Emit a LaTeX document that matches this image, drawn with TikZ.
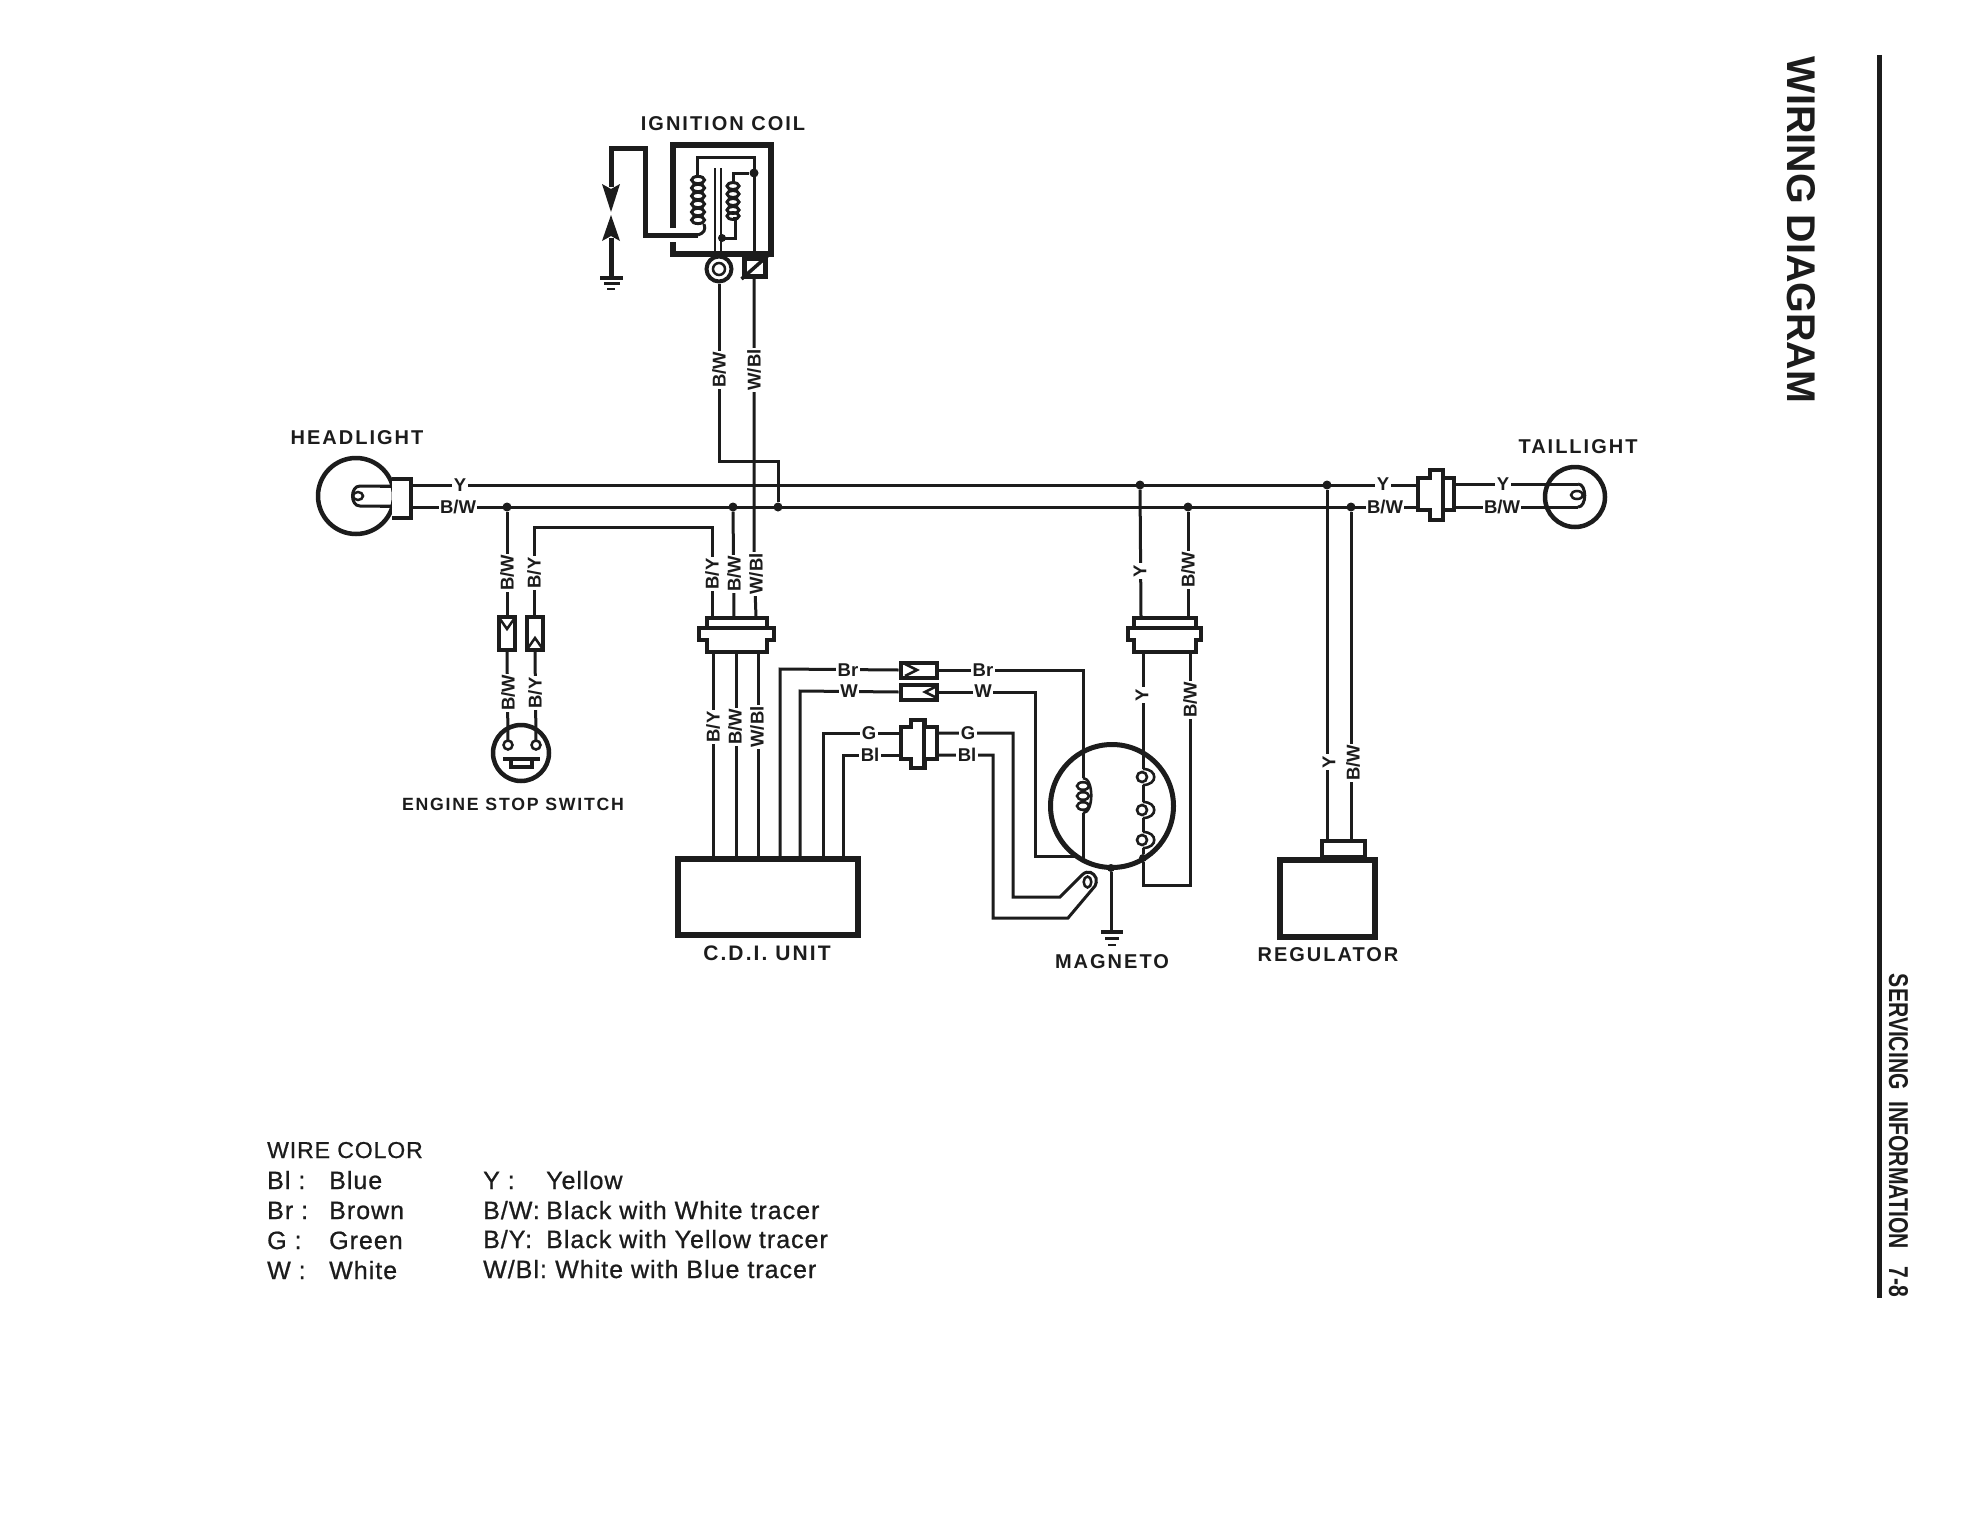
\documentclass[tikz,border=0pt]{standalone}
\usepackage{fontspec}
\setmainfont{Liberation Sans}
\newfontfamily\lblf[LetterSpace=10]{Liberation Sans}
\newfontfamily\legf[LetterSpace=4,FakeBold=0.8]{Liberation Sans}
\definecolor{ink}{HTML}{1C1C1C}
\tikzset{
  wire/.style={line width=3pt,draw=ink,line join=miter},
  heavy/.style={line width=5pt,draw=ink,line join=miter},
  shell/.style={line width=4pt,draw=ink,line join=miter},
  box/.style={rectangle,draw=ink,line width=6pt,fill=white,inner sep=0pt},
  plug/.style={rectangle,draw=ink,line width=4pt,fill=white,inner sep=0pt},
  wl/.style={font=\fontsize{18.5}{18.5}\selectfont\bfseries,text=ink,fill=white,inner sep=1.5pt},
  vl/.style={wl,rotate=90},
  captxt/.style={font=\lblf\fontsize{20}{20}\selectfont\bfseries,text=ink,inner sep=0pt},
  leg/.style={font=\legf\fontsize{25}{25}\selectfont,text=ink,anchor=base west,inner sep=0pt},
  jdot/.style={circle,fill=ink,draw=none,minimum size=9pt,inner sep=0pt},
}
\begin{document}
\begin{tikzpicture}[x=1pt,y=-1pt]
\useasboundingbox (0,0) rectangle (1968,1520);
\fill[white] (0,0) rectangle (1968,1520);

% ---------- named points
\coordinate (hlY) at (412,485); \coordinate (hlB) at (412,507);
\coordinate (tcYl) at (1417,485); \coordinate (tcBl) at (1417,507);
\coordinate (tcYr) at (1455,484); \coordinate (tcBr) at (1455,507);
\coordinate (tbY) at (1578,484); \coordinate (tbB) at (1578,507);
\node[jdot] (jSw) at (507,507) {};
\node[jdot] (jCdi) at (733,507) {};
\node[jdot] (jCoil) at (778,507) {};
\node[jdot] (jMagY) at (1140,485) {};
\node[jdot] (jMagB) at (1188,507) {};
\node[jdot] (jRegY) at (1327,485) {};
\node[jdot] (jRegB) at (1351,507) {};

% ---------- bus
\draw[wire] (hlY) -- (tcYl);
\draw[wire] (hlB) -- (tcBl);
\draw[wire] (tcYr) -- (tbY);
\draw[wire] (tcBr) -- (tbB);

% ---------- ignition coil
\coordinate (sparkT) at (611,148);
\coordinate (sparkR) at (645,148);
\coordinate (sparkB) at (645,235);
\coordinate (coilL) at (698,235);
\coordinate (gapU) at (611,187);
\coordinate (gapL) at (611,238);
\coordinate (gndS) at (611,278);
\draw[heavy] (gapU) -- (sparkT) -- (sparkR) -- (sparkB) -- (coilL);
\fill[ink] (602,184) -- (611,189) -- (620,184) -- (611,212) -- cycle;
\fill[ink] (602,241) -- (611,236) -- (620,241) -- (611,215) -- cycle;
\draw[heavy] (gapL) -- (gndS);
\draw[line width=4pt,draw=ink] (600,278) -- (623,278);
\draw[line width=2.5pt,draw=ink] (604,283.5) -- (620,283.5);
\draw[line width=2.5pt,draw=ink] (607,289) -- (615,289);
\draw[line width=6pt,draw=ink,line join=miter] (673,228) -- (673,145) -- (771,145) -- (771,254) -- (673,254) -- (673,242);
% windings
\draw[wire] (697,175) -- (697,157) -- (754,157) -- (754,257);
\node[circle,fill=ink,minimum size=9pt,inner sep=0pt] (cdot) at (754,173) {};
\draw[wire] (cdot) -- (733,173) -- (733,182);
\foreach \yy in {180,188,196,204,212,220}
  \draw[line width=3pt,draw=ink] (698,\yy) ellipse [x radius=6.5,y radius=3.6];
\draw[line width=3pt,draw=ink] (704,224) .. controls (706,230) and (704,233) .. (698,235);
\foreach \yy in {186,194,202,210,216}
  \draw[line width=3pt,draw=ink] (733,\yy) ellipse [x radius=6,y radius=3.4];
\draw[wire] (733,218) -- (735,218) -- (735,238) -- (721,238);
\draw[line width=2.8pt,draw=ink] (715,168) -- (715,258);
\draw[line width=2.8pt,draw=ink] (721,168) -- (721,252);
\node[circle,fill=ink,minimum size=8pt,inner sep=0pt] (cdot2) at (722,238) {};
\node[circle,draw=ink,line width=4pt,fill=white,minimum size=25pt,inner sep=0pt] (hv) at (719,269) {};
\node[circle,draw=ink,line width=2.5pt,fill=white,minimum size=12pt,inner sep=0pt] (hvi) at (719,269) {};
\node[plug,line width=5pt,minimum width=21pt,minimum height=18pt] (lv) at (754.5,267.5) {};
\draw[line width=3.5pt,draw=ink] (lv.south west) -- (lv.north east);
\coordinate (lvdown) at (754,278);
\node[captxt] (capCoil) at (723,124) {IGNITION COIL};

% wires coil -> bus / CDI
\coordinate (hvC) at (719,461);
\coordinate (hvD) at (778,461);
\draw[wire] (hv.south) -- (hvC) -- (hvD) -- (jCoil);
\coordinate (c1T) at (712,617);\coordinate (c2T) at (734,617);\coordinate (c3T) at (756,617);
\draw[wire] (lvdown) -- (754,560) -- (c3T);
\draw[wire] (jCdi) -- (c2T);
\coordinate (byTurn) at (534,527);
\coordinate (byCorner) at (712,527);
\draw[wire] (c1T) -- (byCorner) -- (byTurn) -- (534,615);
\draw[wire] (jSw) -- (507,615);
\node[vl] (l1) at (719,370) {B/W};
\node[vl] (l2) at (754,370) {W/Bl};

% ---------- headlight
\node[circle,draw=ink,line width=4.5pt,minimum size=76pt,inner sep=0pt] (hl) at (356,496) {};
\draw[wire] (392,486) -- (360,486) .. controls (350,486) and (350,506) .. (360,506) -- (392,506);
\draw[line width=2.5pt,draw=ink] (358,496) ellipse [x radius=5,y radius=4];
\draw[shell,fill=white] (392,479) -- (411,479) -- (411,518) -- (392,518);
\draw[wire] (392,486) -- (380,486);
\draw[wire] (392,506) -- (380,506);
\node[captxt] (capHl) at (357,438) {HEADLIGHT};
\node[wl] (l3) at (460,485) {Y};
\node[wl] (l4) at (458,507) {B/W};

% ---------- stop switch
\node[plug,minimum width=16pt,minimum height=33pt] (sw1) at (507,633.5) {};
\node[plug,minimum width=16pt,minimum height=33pt] (sw2) at (535,633.5) {};
\draw[line width=2.5pt,draw=ink] (500,619) -- (507,629) -- (514,619);
\draw[line width=2.5pt,draw=ink] (528,648) -- (535,638) -- (542,648);
\node[circle,draw=ink,line width=4.5pt,minimum size=56pt,inner sep=0pt] (ss) at (521,753) {};
\draw[wire] (sw1.south) -- (508,741);
\draw[wire] (sw2.south) -- (536,741);
\draw[line width=2.5pt,draw=ink,fill=white] (508,745) circle (4.5);
\draw[line width=2.5pt,draw=ink,fill=white] (536,745) circle (4.5);
\draw[shell] (503,758.5) -- (540,758.5);
\draw[shell,line width=3.5pt] (511,759) -- (511,767) -- (532,767) -- (532,759);
\node[captxt,font=\lblf\fontsize{17.7}{17.7}\selectfont\bfseries] (capSw) at (513,804) {ENGINE STOP SWITCH};
\node[vl] (l5) at (507,573) {B/W};
\node[vl] (l6) at (534,573) {B/Y};
\node[vl] (l7) at (508,693) {B/W};
\node[vl] (l8) at (535,693) {B/Y};

% ---------- CDI
\node[box,minimum width=180pt,minimum height=76pt] (cdi) at (768,897) {};
\node[captxt,font=\lblf\fontsize{21}{21}\selectfont\bfseries] (capCdi) at (767,953) {C.D.I. UNIT};
\coordinate (c1B) at (713,652);\coordinate (c2B) at (736,652);\coordinate (c3B) at (758,652);
\draw[wire] (c1B) -- (cdi.north -| c1B);
\draw[wire] (c2B) -- (cdi.north -| c2B);
\draw[wire] (c3B) -- (cdi.north -| c3B);
% connector 1
\draw[shell,fill=white] (707,618) -- (767,618) -- (767,628) -- (774,628) -- (774,640) -- (767,640) -- (767,652) -- (707,652) -- (707,640) -- (699,640) -- (699,628) -- (707,628) -- cycle;
\draw[shell] (703,628) -- (771,628);
\node[vl] (l9) at (712,574) {B/Y};
\node[vl] (l10) at (734,574) {B/W};
\node[vl] (l11) at (756,574) {W/Bl};
\node[vl] (l12) at (713,727) {B/Y};
\node[vl] (l13) at (735,727) {B/W};
\node[vl] (l14) at (757,727) {W/Bl};

% ---------- two plugs + block
\node[plug,minimum width=36pt,minimum height=15pt] (pBr) at (918.5,670) {};
\node[plug,minimum width=36pt,minimum height=15pt] (pW) at (918.5,692) {};
\draw[line width=2.5pt,draw=ink] (905,664) -- (917,670) -- (905,676);
\draw[line width=2.5pt,draw=ink] (937,686) -- (925,692) -- (937,698);
\coordinate (blkLG) at (900,733);\coordinate (blkLB) at (900,755);
\coordinate (blkRG) at (939,733);\coordinate (blkRB) at (939,755);
\coordinate (xBr) at (780,669);\coordinate (xW) at (800,691);\coordinate (xG) at (823,733);\coordinate (xBl) at (843,755);
\draw[wire] (cdi.north -| xBr) -- (xBr) -- (pBr.west);
\draw[wire] (cdi.north -| xW) -- (xW) -- (pW.west);
\draw[wire] (cdi.north -| xG) -- (xG) -- (blkLG);
\draw[wire] (cdi.north -| xBl) -- (xBl) -- (blkLB);
\draw[shell,fill=white] (901,727) -- (911,727) -- (911,720) -- (925,720) -- (925,727) -- (937,727) -- (937,759) -- (925,759) -- (925,768) -- (911,768) -- (911,759) -- (901,759) -- cycle;
\draw[shell] (924,720) -- (924,768);

% ---------- magneto
\node[circle,draw=ink,line width=5pt,minimum size=123pt,inner sep=0pt] (mag) at (1112,806) {};
\coordinate (brC) at (1083,670);
\draw[wire] (pBr.east) -- (brC) -- (1083,778);
\draw[wire] (1083,813) -- (1083,859);
\foreach \yy in {786,796,806}
  \draw[line width=2.6pt,draw=ink] (1083,\yy) ellipse [x radius=6,y radius=3.8];
\draw[line width=2.6pt,draw=ink] (1083,778) .. controls (1094,778) and (1094,813) .. (1083,813);
\coordinate (wC) at (1035,692);\coordinate (wD) at (1035,856);\coordinate (wE) at (1076,856);
\draw[wire] (pW.east) -- (wC) -- (wD) -- (wE);
% pick-up
\coordinate (gC) at (1013,733);\coordinate (gD) at (1013,897);\coordinate (gE) at (1060,897);\coordinate (gF) at (1082,875);
\coordinate (bC) at (993,755);\coordinate (bD) at (993,918);\coordinate (bE) at (1068,918);\coordinate (bF) at (1095,886);
\draw[wire] (blkRG) -- (gC) -- (gD) -- (gE) -- (gF) .. controls (1088,869) and (1094,873) .. (1096,878) .. controls (1097,881) and (1096,884) .. (bF) -- (bE) -- (bD) -- (bC) -- (blkRB);
\draw[line width=2.5pt,draw=ink] (1087.5,882) ellipse [x radius=3.8,y radius=5.5];
% right coil: three turns, each a ring with an outer bulge
\coordinate (cY) at (1143,652);
\draw[wire] (cY) -- (1143,769);
\foreach \yy in {777,810,840} {
  \draw[line width=2.6pt,draw=ink] (1142,\yy) circle (5);
  \draw[line width=2.6pt,draw=ink] (1143,\yy-8) .. controls (1158,\yy-8) and (1158,\yy+8) .. (1143,\yy+8);
}
\draw[wire] (1143,785) -- (1143,802);
\draw[wire] (1143,818) -- (1143,832);
\node[circle,fill=ink,minimum size=8pt,inner sep=0pt] (mdot1) at (1143,858) {};
\draw[wire] (1143,848) -- (mdot1);
\coordinate (bwB) at (1190,652);
\coordinate (bwC) at (1190,885);\coordinate (bwD) at (1143,885);
\draw[wire] (bwB) -- (bwC) -- (bwD) -- (mdot1);
\node[circle,fill=ink,minimum size=8pt,inner sep=0pt] (mdot2) at (1111,868) {};
\coordinate (mgnd) at (1111,932);
\draw[wire] (mdot2) -- (mgnd);
\draw[line width=4pt,draw=ink] (1101,932) -- (1123,932);
\draw[line width=2.2pt,draw=ink] (1105,938.5) -- (1119,938.5);
\draw[line width=2.2pt,draw=ink] (1108,945) -- (1116,945);
\node[captxt] (capMag) at (1112,962) {MAGNETO};
% connector 2
\draw[wire] (jMagY) -- (1141,617);
\draw[wire] (jMagB) -- (1188,617);
\draw[shell,fill=white] (1134,618) -- (1196,618) -- (1196,628) -- (1201,628) -- (1201,640) -- (1196,640) -- (1196,652) -- (1134,652) -- (1134,640) -- (1128,640) -- (1128,628) -- (1134,628) -- cycle;
\draw[shell] (1130,628) -- (1199,628);
\node[vl] (l15) at (1140,571) {Y};
\node[vl] (l16) at (1188,570) {B/W};
\node[vl] (l17) at (1142,695) {Y};
\node[vl] (l18) at (1190,700) {B/W};

% labels on plug leads
\node[wl] (l19) at (848,670) {Br};
\node[wl] (l20) at (849,691) {W};
\node[wl] (l21) at (869,733) {G};
\node[wl] (l22) at (870,755) {Bl};
\node[wl] (l23) at (983,670) {Br};
\node[wl] (l24) at (983,691) {W};
\node[wl] (l25) at (968,733) {G};
\node[wl] (l26) at (967,755) {Bl};

% ---------- regulator
\node[plug,minimum width=43pt,minimum height=16pt] (rtab) at (1343.5,849) {};
\node[box,minimum width=95pt,minimum height=77pt] (reg) at (1327.5,898.5) {};
\draw[wire] (jRegY) -- (rtab.north -| jRegY);
\draw[wire] (jRegB) -- (rtab.north -| jRegB);
\node[vl] (l27) at (1329,762) {Y};
\node[vl] (l28) at (1353,763) {B/W};
\node[captxt] (capReg) at (1328,955) {REGULATOR};
\node[wl] (l29) at (1383,484) {Y};
\node[wl] (l30) at (1385,507) {B/W};

% ---------- tail connector + light
\draw[shell,fill=white] (1418,478) -- (1430,478) -- (1430,470) -- (1443,470) -- (1443,478) -- (1454,478) -- (1454,510) -- (1443,510) -- (1443,520) -- (1430,520) -- (1430,510) -- (1418,510) -- cycle;
\draw[shell] (1443,470) -- (1443,520);
\node[wl] (l31) at (1503,484) {Y};
\node[wl] (l32) at (1502,507) {B/W};
\node[circle,draw=ink,line width=4.5pt,minimum size=60pt,inner sep=0pt] (tl) at (1575,497) {};
\draw[wire] (tbY) .. controls (1587,484) and (1587,507) .. (tbB);
\draw[line width=2.5pt,draw=ink] (1577,495) ellipse [x radius=6,y radius=4];
\node[captxt] (capTl) at (1578,447) {TAILLIGHT};

% ---------- page furniture
\draw[line width=5pt,draw=ink] (1879,55) -- (1879,1298);
\node[rotate=-90,inner sep=0pt,text=ink] (title) at (1801,230) {\resizebox{346pt}{28pt}{\bfseries WIRING DIAGRAM}};
\node[rotate=-90,inner sep=0pt,text=ink] (side) at (1898.5,1135.5) {\resizebox{323pt}{19pt}{\bfseries SERVICING\ \ INFORMATION\ \ \ 7-8}};

% ---------- legend
\node[leg,font=\legf\fontsize{23}{23}\selectfont] (lg0) at (267,1158) {WIRE COLOR};
\node[leg] (a1) at (267,1189) {Bl :};   \node[leg] (b1) at (329,1189) {Blue};
\node[leg] (a2) at (267,1219) {Br :};   \node[leg] (b2) at (329,1219) {Brown};
\node[leg] (a3) at (267,1249) {G :};    \node[leg] (b3) at (329,1249) {Green};
\node[leg] (a4) at (267,1279) {W :};    \node[leg] (b4) at (329,1279) {White};
\node[leg] (c1) at (483,1189) {Y :};    \node[leg] (d1) at (546,1189) {Yellow};
\node[leg] (c2) at (483,1219) {B/W:};   \node[leg] (d2) at (546,1219) {Black with White tracer};
\node[leg] (c3) at (483,1248) {B/Y:};   \node[leg] (d3) at (546,1248) {Black with Yellow tracer};
\node[leg] (c4) at (483,1278) {W/Bl:};  \node[leg] (d4) at (555,1278) {White with Blue tracer};
\end{tikzpicture}
\end{document}
